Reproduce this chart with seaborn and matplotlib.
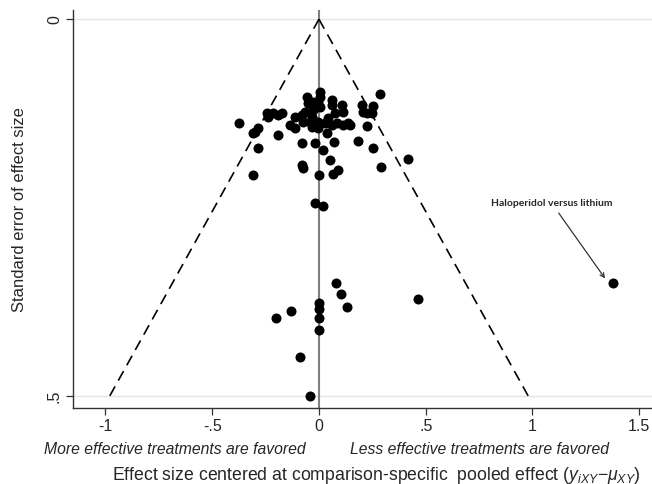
import matplotlib
matplotlib.use("Agg")
import matplotlib.pyplot as plt
import seaborn as sns
import numpy as np
import pandas as pd

# Effect size centered at comparison-specific pooled effect
effect = [
    -0.375, -0.309, -0.300, -0.286, -0.244, -0.239, -0.215, -0.192, -0.173, -0.192,
    -0.286, -0.309, -0.136, -0.112, -0.112, -0.080, -0.080, -0.075, -0.058, 0.005,
    0.005, -0.052, -0.028, -0.005, 0.005, -0.066, -0.028, -0.080, -0.033, -0.075,
    -0.042, -0.005, 0.028, -0.033, -0.005, 0.037, 0.061, 0.061, 0.108, 0.112,
    0.075, 0.042, 0.084, 0.112, 0.136, 0.061, -0.020, 0.019, 0.070, 0.201,
    0.253, 0.206, 0.225, 0.248, 0.286, 0.145, 0.225, 0.183, 0.253, 0.417,
    0.290, 0.052, 0.000, 0.066, 0.089, -0.019, 0.019, 0.078, 0.103, 0.130,
    0.001, 0.001, 0.001, 0.001, -0.131, -0.203, -0.089, -0.042, 0.465, 1.377,
]
# Standard error of effect size
std_err = [
    0.138, 0.151, 0.150, 0.145, 0.125, 0.130, 0.125, 0.127, 0.125, 0.154,
    0.171, 0.207, 0.141, 0.130, 0.145, 0.164, 0.194, 0.198, 0.103, 0.096,
    0.103, 0.111, 0.110, 0.110, 0.117, 0.123, 0.121, 0.127, 0.130, 0.137,
    0.137, 0.137, 0.138, 0.143, 0.145, 0.151, 0.107, 0.114, 0.114, 0.123,
    0.125, 0.131, 0.138, 0.141, 0.138, 0.141, 0.164, 0.174, 0.163, 0.114,
    0.115, 0.123, 0.125, 0.125, 0.099, 0.141, 0.142, 0.162, 0.171, 0.186,
    0.196, 0.187, 0.207, 0.206, 0.200, 0.244, 0.248, 0.350, 0.365, 0.382,
    0.377, 0.384, 0.397, 0.413, 0.387, 0.397, 0.448, 0.500, 0.371, 0.350,
]

# Funnel (pseudo 95% limits)
funnel_se = [0.0, 0.5]
funnel_left = [0.0, -0.98]
funnel_right = [0.0, 0.98]

x_ticks = [-1, -0.5, 0, 0.5, 1, 1.5]
x_tick_labels = ["-1", "-.5", "0", ".5", "1", "1.5"]
y_ticks = [0, 0.5]
y_tick_labels = ["0", ".5"]

outlier_label = "Haloperidol versus lithium"

sns.set_style("white")
plt.rcParams["font.family"] = ["Liberation Sans", "DejaVu Sans"]
plt.rcParams["mathtext.fontset"] = "custom"
plt.rcParams["mathtext.it"] = "Liberation Sans:italic"
plt.rcParams["mathtext.rm"] = "Liberation Sans"

fig = plt.figure(figsize=(6.52, 4.84), dpi=100)
ax = fig.add_axes([0.112, 0.157, 0.888, 0.822])

df = pd.DataFrame({"effect": effect, "se": std_err})

for yt in y_ticks:
    ax.axhline(yt, color="#e4e4e4", lw=1.0, zorder=0)

ax.axvline(0, color="#808080", lw=1.5, zorder=1)
ax.plot(funnel_left, funnel_se, color="black", lw=1.2, ls=(0, (6.5, 4)), zorder=1)
ax.plot(funnel_right, funnel_se, color="black", lw=1.2, ls=(0, (6.5, 4)), zorder=1)

sns.scatterplot(data=df, x="effect", y="se", ax=ax, color="black", s=52,
                edgecolor="black", linewidth=0, zorder=3, legend=False)

ax.set_xlim(-1.152, 1.56)
ax.set_ylim(0.516, -0.012)

ax.set_xticks(x_ticks)
ax.set_xticklabels(x_tick_labels, fontsize=11.5)
ax.set_yticks(y_ticks)
ax.set_yticklabels(y_tick_labels, fontsize=11.5, rotation=90, va="center")
ax.tick_params(axis="both", direction="out", length=5, width=0.9, color="#333333",
               bottom=True, left=True, pad=3)

for side in ["top", "right"]:
    ax.spines[side].set_visible(False)
for side in ["left", "bottom"]:
    ax.spines[side].set_color("#333333")
    ax.spines[side].set_linewidth(1.0)

ax.set_xlabel("")
ax.set_ylabel("Standard error of effect size", fontsize=11.9, labelpad=14)

fig.text(376 / 652, 1 - 475 / 484,
         r"Effect size centered at comparison-specific  pooled effect ($y_{iXY}$$-$$\mu_{XY}$)",
         fontsize=12.7, ha="center", va="center")

fig.text(175 / 652, 1 - 450 / 484, "More effective treatments are favored",
         fontsize=11.3, style="italic", ha="center", va="center")
fig.text(479 / 652, 1 - 450 / 484, "Less effective treatments are favored",
         fontsize=11.3, style="italic", ha="center", va="center")

ax.annotate(outlier_label, xy=(1.34, 0.344), xytext=(1.09, 0.25),
            fontsize=7.5, fontweight="bold", family=["Lato", "DejaVu Sans"],
            ha="center", va="bottom",
            arrowprops=dict(arrowstyle="->", color="#333333", lw=0.9,
                            shrinkA=2, shrinkB=0))

fig.savefig("out.png", dpi=100)
